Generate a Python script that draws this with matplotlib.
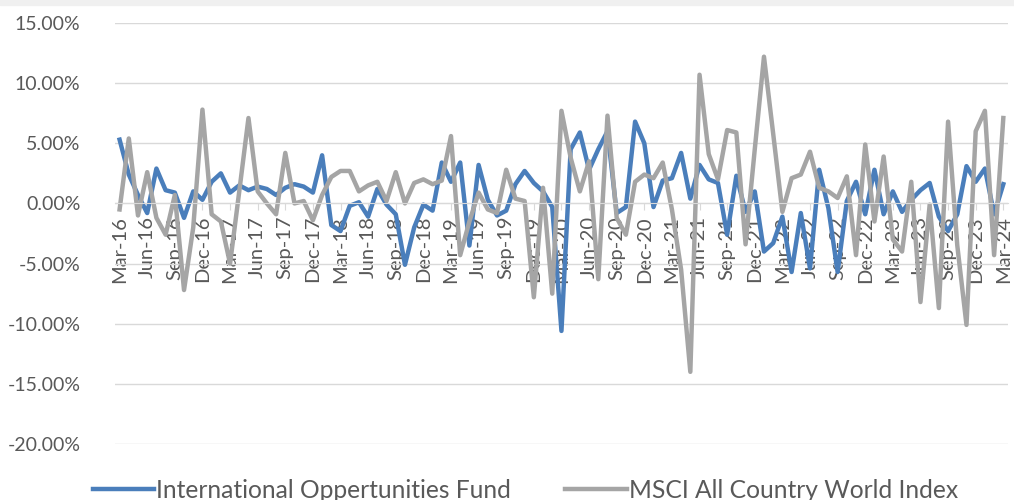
import matplotlib.pyplot as plt
import matplotlib.ticker as mticker
from matplotlib.lines import Line2D
import pandas as pd
import numpy as np

# monthly returns in percent, Mar-16 .. Mar-24
months = pd.date_range('2016-03-01', '2024-03-01', freq='MS').strftime('%b-%y').tolist()

fund = [5.3, 2.4, 0.7, -0.8, 2.9, 1.1, 0.9, -1.2, 1.0, 0.3,
        1.8, 2.5, 0.9, 1.5, 1.1, 1.4, 1.2, 0.7, 1.3, 1.6,
        1.4, 0.9, 4.0, -1.8, -2.3, -0.2, 0.1, -1.1, 1.2, -0.1,
        -0.9, -5.1, -2.0, -0.1, -0.6, 3.4, 1.8, 3.4, -3.5, 3.2,
        0.3, -1.0, -0.6, 1.6, 2.7, 1.7, 1.0, -0.3, -10.6, 4.5,
        5.9, 2.8, 4.5, 6.0, -0.8, -0.3, 6.8, 5.0, -0.3, 1.9,
        2.1, 4.2, 0.4, 3.2, 2.0, 1.7, -2.6, 2.3, -0.7, 1.0,
        -4.0, -3.3, -1.1, -5.7, -0.8, -5.4, 2.8, -0.4, -5.7, 0.2,
        1.8, -0.9, 2.8, -0.9, 1.0, -0.7, 0.3, 1.1, 1.7, -1.1,
        -2.3, -0.9, 3.1, 1.8, 2.9, -0.9, 1.6]

acwi = [-0.5, 5.4, -1.0, 2.6, -1.2, -2.6, 0.7, -7.2, -2.0, 7.8,
        -0.9, -1.5, -5.0, 1.0, 7.1, 1.0, 0.0, -0.9, 4.2, 0.0,
        0.2, -1.4, 0.7, 2.2, 2.7, 2.7, 1.0, 1.5, 1.8, 0.2,
        2.6, 0.0, 1.7, 2.0, 1.6, 1.9, 5.6, -4.3, -1.5, 0.9,
        -0.5, -0.8, 2.8, 0.4, 0.2, -7.8, 1.3, -7.5, 7.7, 3.8,
        1.0, 3.5, -6.3, 7.3, -1.2, -2.6, 1.8, 2.4, 2.1, 3.4,
        -0.5, -5.5, -14.0, 10.7, 4.1, 2.0, 6.1, 5.9, -3.4, 4.5,
        12.2, 5.8, -0.7, 2.1, 2.4, 4.3, 1.3, 1.0, 0.45, 2.25,
        -4.3, 4.9, -1.5, 3.9, -3.0, -4.0, 1.8, -8.2, -0.1, -8.7,
        6.8, -3.5, -10.1, 6.0, 7.7, -4.3, 7.1]

series_names = ['International Oppertunities Fund', 'MSCI All Country World Index']
colors = ['#4a7ebb', '#a5a5a5']

plt.rcParams['font.family'] = ['Lato', 'DejaVu Sans']
plt.rcParams['axes.unicode_minus'] = False

fig = plt.figure(figsize=(10.14, 5.0), dpi=100)
ax = fig.add_axes([0.1134, 0.112, 0.8806, 0.842])

x = np.arange(len(months))
ax.plot(x, fund, color=colors[0], lw=3.2, solid_joinstyle='round')
ax.plot(x, acwi, color=colors[1], lw=3.2, solid_joinstyle='round')

ax.set_xlim(-0.5, len(months) - 0.5)
ax.set_ylim(-20, 15)
ax.set_yticks(np.arange(-20, 16, 5))
ax.yaxis.set_major_formatter(mticker.PercentFormatter(xmax=100, decimals=2))
ax.yaxis.grid(True, color='#d9d9d9', lw=1)
ax.set_axisbelow(True)

ax.set_xticks(x[::3])
ax.set_xticklabels(months[::3])

for s in ['top', 'right', 'left']:
    ax.spines[s].set_visible(False)
ax.spines['bottom'].set_position(('data', 0))
ax.spines['bottom'].set_color('#d9d9d9')
ax.tick_params(axis='y', length=0, pad=25, labelsize=14, labelcolor='#595959')
ax.tick_params(axis='x', length=5, color='#d9d9d9', pad=4, labelsize=14.5,
               labelcolor='#595959', labelrotation=90)
for lbl in ax.get_xticklabels():
    lbl.set_verticalalignment('top')

handles = [Line2D([], [], color=c, lw=3.2) for c in colors]
fig.legend(handles, series_names, loc='center', bbox_to_anchor=(0.518, 0.02),
           ncol=2, frameon=False, fontsize=17.7, handlelength=2.5, handletextpad=0.08,
           columnspacing=2.2, labelcolor='#595959')

# light band at the top edge
fig.patches.append(plt.Rectangle((0, 0.99), 1, 0.01, transform=fig.transFigure,
                                 color='#f0f0f0', zorder=0))

plt.savefig('out.png', dpi=100)
